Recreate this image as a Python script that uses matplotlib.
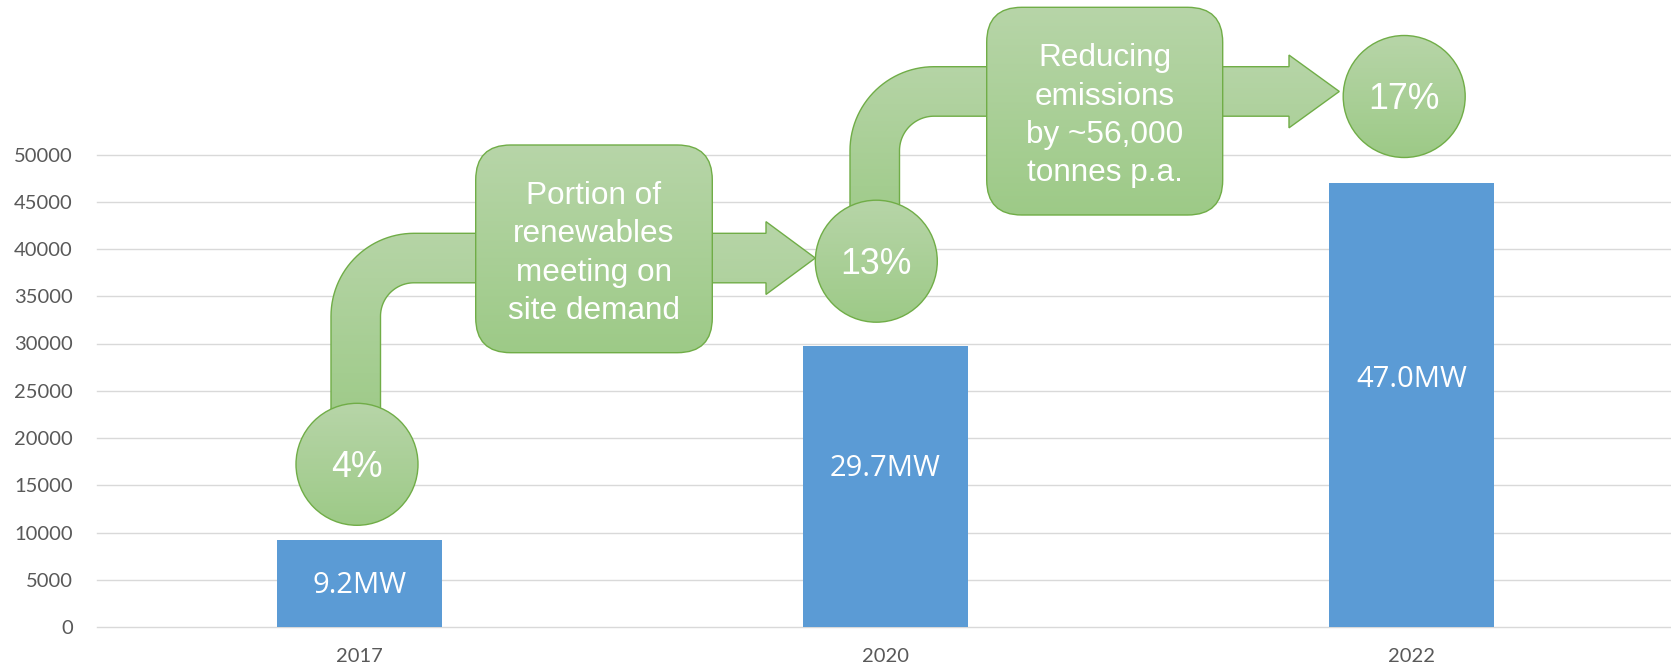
import numpy as np
import matplotlib
matplotlib.use("Agg")
import matplotlib.pyplot as plt
from matplotlib.patches import Circle, FancyBboxPatch, PathPatch
from matplotlib.path import Path

# canvas in pixels
W, H = 1671, 669
DPI = 100

# data
years = ["2017", "2020", "2022"]
capacity = [9200, 29700, 47000]
bar_labels = ["9.2MW", "29.7MW", "47.0MW"]
renewable_share = ["4%", "13%", "17%"]
box_texts = [
    ["Portion of", "renewables", "meeting on", "site demand"],
    ["Reducing", "emissions", "by ~56,000", "tonnes p.a."],
]
y_ticks = list(range(0, 50001, 5000))

BLUE = "#5B9BD5"
GREEN_TOP = np.array([183, 213, 168]) / 255
GREEN_BOT = np.array([157, 202, 135]) / 255
GREEN_EDGE = "#70AD47"
TICK_COLOR = "#595959"
GRID_COLOR = "#D9D9D9"

plt.rcParams["font.family"] = ["Liberation Sans", "DejaVu Sans"]

fig = plt.figure(figsize=(W / DPI, H / DPI), dpi=DPI)
ax = fig.add_axes([96.5 / W, 42 / H, 1578 / W, 472.5 / H])

x = np.arange(len(years))
ax.bar(x, capacity, width=0.314, color=BLUE, zorder=2)
ax.set_xlim(-0.5, len(years) - 0.5)
ax.set_ylim(0, 50000)
ax.set_yticks(y_ticks)
ax.set_xticks(x, years)
ax.grid(axis="y", color=GRID_COLOR, lw=1.0)
ax.set_axisbelow(True)
for gl in ax.get_ygridlines():
    gl.set_clip_on(False)
for s in ax.spines.values():
    s.set_visible(False)
ax.tick_params(length=0, labelcolor=TICK_COLOR, labelsize=14.5)
ax.tick_params(axis="y", pad=17)
ax.tick_params(axis="x", pad=15)
for lbl in ax.get_xticklabels() + ax.get_yticklabels():
    lbl.set_fontfamily("Lato")

# value labels sit inside the bars (baseline as a fraction of bar height)
label_frac = [0.388, 0.539, 0.540]
for i, (val, txt) in enumerate(zip(capacity, bar_labels)):
    ax.text(i, val * label_frac[i], txt, ha="center", va="baseline",
            color="white", fontsize=21, family="Open Sans", zorder=3)

# overlay in pixel coordinates for the green callouts
ov = fig.add_axes([0, 0, 1, 1], zorder=5)
ov.patch.set_alpha(0)
ov.axis("off")

gradient = np.linspace(0, 1, 256)[:, None, None]
grad_img = (1 - gradient) * GREEN_TOP + gradient * GREEN_BOT


def green_shape(make_patch, bbox, z):
    fill = make_patch()
    fill.set_facecolor("none")
    fill.set_edgecolor("none")
    ov.add_patch(fill)
    x0, y0, x1, y1 = bbox
    im = ov.imshow(grad_img, extent=(x0, x1, y1, y0), origin="upper",
                   aspect="auto", interpolation="bilinear", zorder=z)
    im.set_clip_path(fill)
    edge = make_patch()
    edge.set_facecolor("none")
    edge.set_edgecolor(GREEN_EDGE)
    edge.set_linewidth(1.0)
    edge.set_zorder(z + 0.1)
    ov.add_patch(edge)


def elbow_path(xo, yt, width, R, y_end, head_base, tip, head_half):
    cx, cy = xo + R, yt + R
    r = R - width
    yc = yt + width / 2
    t_out = np.linspace(np.pi, np.pi / 2, 30)
    t_in = np.linspace(np.pi / 2, np.pi, 30)
    verts = [(xo, y_end), (xo, cy)]
    verts += list(zip(cx + R * np.cos(t_out), cy - R * np.sin(t_out)))
    verts += [(head_base, yt), (head_base, yc - head_half), (tip, yc),
              (head_base, yc + head_half), (head_base, yt + width)]
    verts += list(zip(cx + r * np.cos(t_in), cy - r * np.sin(t_in)))
    verts += [(xo + width, y_end), (xo, y_end)]
    codes = [Path.MOVETO] + [Path.LINETO] * (len(verts) - 2) + [Path.CLOSEPOLY]
    return Path(verts, codes)


elbows = [
    dict(xo=331, yt=233.3, width=49.5, R=83, y_end=430, head_base=766, tip=815.3, head_half=36.4),
    dict(xo=850, yt=66.7, width=49.5, R=84, y_end=235, head_base=1289, tip=1339.3, head_half=36.4),
]
for e in elbows:
    p = elbow_path(**e)
    ext = p.get_extents()
    green_shape(lambda p=p: PathPatch(p), (ext.x0, ext.y0, ext.x1, ext.y1), 3)

boxes = [(475.7, 145, 236.6, 207.7), (986.7, 7.3, 236, 207.7)]
for (bx, by, bw, bh), lines in zip(boxes, box_texts):
    green_shape(lambda bx=bx, by=by, bw=bw, bh=bh: FancyBboxPatch(
        (bx, by), bw, bh, boxstyle="round,pad=0,rounding_size=35"),
        (bx, by, bx + bw, by + bh), 4)
    for k, line in enumerate(lines):
        ov.text(bx + bw / 2, by + 59 + k * 38.3, line, ha="center", va="baseline",
                color="white", fontsize=22.7, zorder=6)

circles = [(357, 464.3), (876.3, 261.2), (1404.2, 96.5)]
rad = 61
for (cx, cy), pct in zip(circles, renewable_share):
    green_shape(lambda cx=cx, cy=cy: Circle((cx, cy), rad),
                (cx - rad, cy - rad, cx + rad, cy + rad), 4)
    ov.text(cx, cy + 12.8, pct, ha="center", va="baseline",
            color="white", fontsize=25.7, zorder=6)

ov.set_xlim(0, W)
ov.set_ylim(H, 0)

fig.savefig("out.png", dpi=DPI)
